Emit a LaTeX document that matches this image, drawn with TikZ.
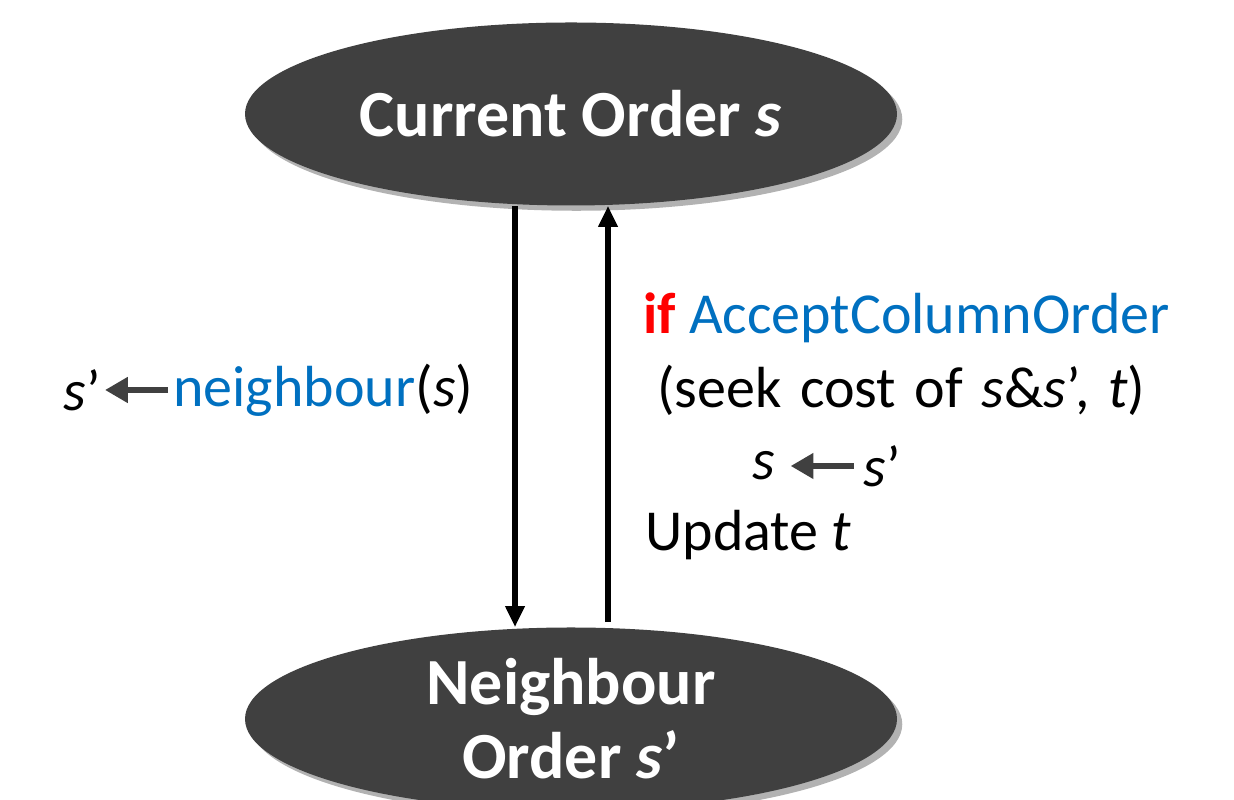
\documentclass[tikz,border=0pt]{standalone}
\usepackage{fontspec}
\setmainfont{Carlito}
\usetikzlibrary{shapes.geometric,arrows.meta,shadows}
\definecolor{ellfill}{HTML}{404040}
\definecolor{txtblue}{HTML}{0070C0}
\definecolor{txtred}{HTML}{FF0000}
\definecolor{arrgray}{HTML}{404040}
\tikzset{
  state/.style={ellipse, fill=ellfill, draw=none, minimum width=13.04cm, minimum height=3.66cm,
    inner sep=0pt, text=white, align=center, font=\fontsize{37.5}{42}\selectfont\bfseries,
    drop shadow={shadow xshift=3pt, shadow yshift=-3pt, fill=black, opacity=0.3}},
  flow/.style={line width=3.2pt, -{Triangle[length=12pt,width=10.5pt]}},
  lbl/.style={inner sep=0pt, font=\fontsize{33}{38}\selectfont},
  small/.style={line width=3.6pt, arrgray, -{Triangle[length=13pt,width=14pt]}}
}
\begin{document}
\begin{tikzpicture}
\useasboundingbox (0,0) rectangle (24.68,16);
\node[state] (cur) at (11.42,13.72) {Current Order \textit{s}};
\node[state] (nbr) at (11.42,1.62) {Neighbour\\Order \textit{s}’};
\coordinate (xd) at (10.30,0);
\coordinate (xu) at (12.16,0);
\draw[flow] (cur.south -| xd) -- (nbr.north -| xd);
\draw[flow] ([yshift=0.1cm]nbr.north -| xu) -- (cur.south -| xu);
% left label
\node[lbl, anchor=east] (sp1) at (2.02,8.2) {\textit{s}’};
\node[lbl, anchor=west] (nb) at (3.46,8.2) {\textcolor{txtblue}{neighbour}(\textit{s})};
\draw[small] ([xshift=-0.1cm]nb.west) -- ([xshift=0.08cm]sp1.east);
% right block
\node[lbl, anchor=west] (ifl) at (12.86,9.64) {\textcolor{txtred}{\bfseries if} \textcolor{txtblue}{AcceptColumnOrder}};
\node[lbl, anchor=west] (seek) at (13.14,8.2) {\spaceskip=0.32em\relax(seek cost of \textit{s}\&\textit{s}’, \textit{t})};
\node[lbl] (s2) at (15.28,6.68) {\textit{s}};
\node[lbl] (sp2) at (17.65,6.68) {\textit{s}’};
\draw[small] ([xshift=-0.2cm]sp2.west) -- ([xshift=0.3cm]s2.east);
\node[lbl, anchor=west] (upd) at (12.90,5.3) {Update \textit{t}};
\end{tikzpicture}
\end{document}
